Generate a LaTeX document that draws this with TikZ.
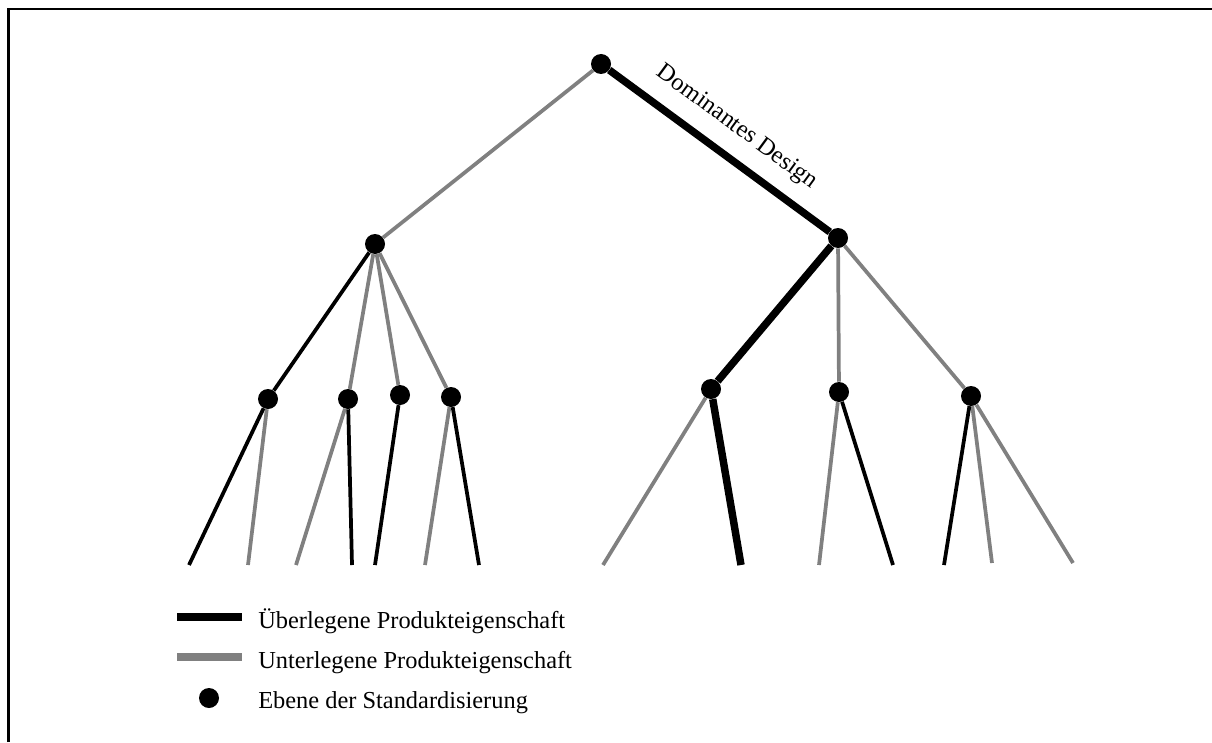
\documentclass[tikz,border=0pt]{standalone}
\usepackage{fontspec}
\setmainfont{Liberation Serif}
\definecolor{inferiorgray}{RGB}{128,128,128}
\begin{document}
\begin{tikzpicture}[x=0.75pt,y=-0.75pt,
  dot/.style={circle,fill=black,inner sep=0pt,minimum size=15pt},
  superior/.style={draw=black,line width=2.8pt},
  inferior/.style={draw=inferiorgray,line width=2.8pt},
  dominant/.style={draw=black,line width=5.6pt},
  labelfont/.style={font=\fontsize{18.3pt}{22pt}\selectfont},
  legtext/.style={anchor=base west,inner sep=0pt,labelfont}]
\useasboundingbox (0,0) rectangle (1212,742);

% open frame: top and left rules
\draw[line width=2pt] (8.3,742) -- (8.3,9) -- (1212,9);

% standardisation levels
\node[dot] (root) at (601,64) {};
\node[dot] (a)  at (375,244) {};
\node[dot] (b)  at (838,238) {};
\node[dot] (a1) at (268,399) {};
\node[dot] (a2) at (348,399) {};
\node[dot] (a3) at (400,395) {};
\node[dot] (a4) at (451,397) {};
\node[dot] (b1) at (711,389) {};
\node[dot] (b2) at (839,392) {};
\node[dot] (b3) at (971,396) {};

% free ends of the last branches
\coordinate (l1)  at (189,565);
\coordinate (l2)  at (248,565);
\coordinate (l3)  at (296,565);
\coordinate (l4)  at (352,565);
\coordinate (l5)  at (375,565);
\coordinate (l6)  at (425,565);
\coordinate (l7)  at (479,565);
\coordinate (l8)  at (603,565);
\coordinate (l9)  at (741,565);
\coordinate (l10) at (819,565);
\coordinate (l11) at (893,565);
\coordinate (l12) at (944,565);
\coordinate (l13) at (992,563);
\coordinate (l14) at (1073,563);

% inferior product features
\draw[inferior] (root) -- (a);
\draw[inferior] (a) -- (a2);
\draw[inferior] (a) -- (a3);
\draw[inferior] (a) -- (a4);
\draw[inferior] (b) -- (b2);
\draw[inferior] (b) -- (b3);
\draw[inferior] (a1) -- (l2);
\draw[inferior] (a2) -- (l3);
\draw[inferior] (a4) -- (l6);
\draw[inferior] (b1) -- (l8);
\draw[inferior] (b2) -- (l10);
\draw[inferior] (b3) -- (l13);
\draw[inferior] (b3) -- (l14);

% superior product features
\draw[superior] (a) -- (a1);
\draw[superior] (a1) -- (l1);
\draw[superior] (a2) -- (l4);
\draw[superior] (a3) -- (l5);
\draw[superior] (a4) -- (l7);
\draw[superior] (b2) -- (l11);
\draw[superior] (b3) -- (l12);

% dominant design path
\draw[dominant] (root) -- node[sloped,above=11pt,inner sep=0pt,labelfont] (dd) {Dominantes Design} (b);
\draw[dominant] (b) -- (b1);
\draw[dominant] (b1) -- (l9);

% legend
\draw[line width=6pt] (177,617) -- (242,617);
\draw[draw=inferiorgray,line width=6pt] (177,657) -- (242,657);
\node[dot] (legdot) at (209,698) {};
\node[legtext] (leg1) at (258,628) {Überlegene Produkteigenschaft};
\node[legtext] (leg2) at (258,668) {Unterlegene Produkteigenschaft};
\node[legtext] (leg3) at (258,708) {Ebene der Standardisierung};
\end{tikzpicture}
\end{document}
